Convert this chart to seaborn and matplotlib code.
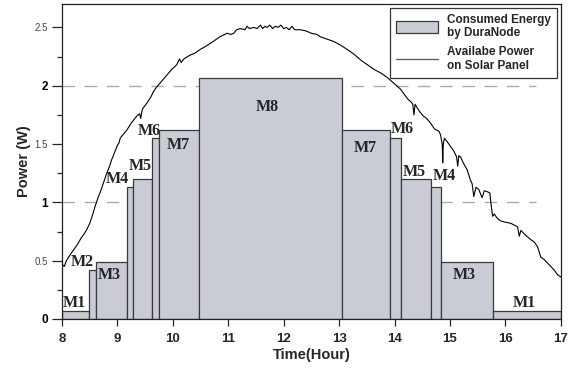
import matplotlib
matplotlib.use("Agg")
import matplotlib.pyplot as plt
import seaborn as sns
import numpy as np
from matplotlib.patches import Patch
from matplotlib.lines import Line2D

# ---- data: consumption modes (start hour, end hour, power W, label) ----
mode_start = [8.00, 8.49, 8.62, 9.17, 9.29, 9.62, 9.75, 10.48, 13.06, 13.92, 14.11, 14.65, 14.83, 15.77]
mode_end   = [8.49, 8.62, 9.17, 9.29, 9.62, 9.75, 10.48, 13.06, 13.92, 14.11, 14.65, 14.83, 15.77, 17.00]
mode_power = [0.07, 0.42, 0.49, 1.13, 1.20, 1.55, 1.62, 2.07, 1.62, 1.55, 1.20, 1.13, 0.49, 0.07]

label_text = ["M1", "M2", "M3", "M4", "M5", "M6", "M7", "M8", "M7", "M6", "M5", "M4", "M3", "M1"]
label_x    = [8.02, 8.15, 8.65, 8.79, 9.21, 9.37, 9.89, 11.49, 13.26, 13.93, 14.15, 14.69, 15.05, 16.14]
label_y    = [0.14, 0.49, 0.38, 1.20, 1.31, 1.61, 1.49, 1.82, 1.47, 1.63, 1.26, 1.23, 0.38, 0.14]

# ---- data: available solar power ----
solar_t = [8.00, 8.04, 8.08, 8.12, 8.16, 8.22, 8.28, 8.34, 8.40, 8.45, 8.50, 8.55, 8.60, 8.65,
           8.70, 8.75, 8.80, 8.85, 8.90, 8.95, 9.00, 9.03, 9.05, 9.10, 9.17, 9.25, 9.35, 9.40,
           9.42, 9.45, 9.53, 9.60, 9.65, 9.71, 9.80, 9.89, 9.98, 10.07, 10.12, 10.15, 10.20,
           10.30, 10.40, 10.49, 10.60, 10.73, 10.85, 10.98, 11.05, 11.10, 11.15, 11.22, 11.30,
           11.34, 11.38, 11.46, 11.52, 11.58, 11.62, 11.66, 11.70, 11.75, 11.80, 11.85, 11.90,
           11.95, 12.00, 12.05, 12.10, 12.15, 12.20, 12.30, 12.40, 12.50, 12.60, 12.66, 12.72,
           12.78, 12.90, 13.02, 13.15, 13.27, 13.39, 13.51, 13.63, 13.75, 13.87, 13.99, 14.11,
           14.20, 14.25, 14.30, 14.33, 14.35, 14.37, 14.45, 14.52, 14.58, 14.65, 14.72, 14.80,
           14.83, 14.86, 14.87, 14.88, 14.90, 14.95, 15.01, 15.07, 15.12, 15.14, 15.16, 15.19,
           15.25, 15.31, 15.37, 15.40, 15.43, 15.47, 15.52, 15.58, 15.62, 15.68, 15.72, 15.74,
           15.77, 15.80, 15.86, 15.92, 16.00, 16.10, 16.22, 16.25, 16.28, 16.36, 16.46, 16.52,
           16.58, 16.64, 16.70, 16.76, 16.82, 16.88, 16.94, 17.00]
solar_p = [0.47, 0.45, 0.50, 0.53, 0.56, 0.60, 0.64, 0.69, 0.73, 0.77, 0.82, 0.89, 0.97, 1.04,
           1.10, 1.17, 1.24, 1.30, 1.37, 1.43, 1.49, 1.51, 1.55, 1.58, 1.62, 1.68, 1.74, 1.76,
           1.72, 1.80, 1.85, 1.90, 1.95, 1.99, 2.04, 2.09, 2.14, 2.18, 2.23, 2.20, 2.23,
           2.26, 2.28, 2.31, 2.34, 2.38, 2.42, 2.45, 2.44, 2.45, 2.48, 2.49, 2.48,
           2.51, 2.49, 2.50, 2.49, 2.52, 2.49, 2.51, 2.50, 2.52, 2.49, 2.51, 2.50,
           2.52, 2.49, 2.50, 2.48, 2.51, 2.48, 2.48, 2.47, 2.45, 2.44, 2.42, 2.41,
           2.40, 2.38, 2.35, 2.31, 2.27, 2.22, 2.18, 2.14, 2.11, 2.07, 2.02, 1.97,
           1.91, 1.88, 1.86, 1.84, 1.75, 1.84, 1.78, 1.74, 1.72, 1.68, 1.63, 1.61,
           1.58, 1.50, 1.34, 1.50, 1.55, 1.52, 1.48, 1.44, 1.39, 1.31, 1.40, 1.39,
           1.33, 1.28, 1.19, 1.16, 1.05, 1.13, 1.11, 1.04, 1.10, 1.09, 1.08, 0.99,
           0.88, 0.90, 0.86, 0.84, 0.83, 0.82, 0.79, 0.71, 0.76, 0.72, 0.68, 0.66,
           0.62, 0.53, 0.51, 0.48, 0.45, 0.42, 0.38, 0.36]

x_ticks = [8, 9, 10, 11, 12, 13, 14, 15, 16, 17]
y_ticks = [0, 0.5, 1, 1.5, 2, 2.5]
y_tick_labels = ["0", "0.5", "1", "1.5", "2", "2.5"]

# ---- plot ----
sns.set_style("ticks")
plt.rcParams["font.family"] = ["Liberation Sans", "DejaVu Sans"]

fig = plt.figure(figsize=(5.74, 3.72), dpi=100)
ax = fig.add_axes([0.108, 0.1425, 0.869, 0.8465])

widths = [e - s for s, e in zip(mode_start, mode_end)]
ax.bar(mode_start, mode_power, width=widths, align="edge",
       color="#c9ccd4", edgecolor="#3a3a3a", linewidth=0.9, zorder=2)

for yv in (1, 2):
    ax.axhline(yv, xmin=0, xmax=0.95, color="#aaaaaa", lw=1.0,
               linestyle=(0, (9, 7)), zorder=1)

sns.lineplot(x=solar_t, y=solar_p, ax=ax, color="black", lw=0.8,
             estimator=None, sort=False, zorder=3)

for t, xx, yy in zip(label_text, label_x, label_y):
    ax.text(xx, yy, t, ha="left", va="center", fontsize=11.5, fontweight="bold",
            family="Liberation Serif", zorder=4)

ax.set_xlim(8, 17)
ax.set_ylim(0, 2.7)
ax.set_xticks(x_ticks)
ax.set_xticklabels([str(v) for v in x_ticks], fontsize=9.5, fontweight="bold")
ax.set_yticks(y_ticks)
ax.set_yticklabels(y_tick_labels)
for lab, v in zip(ax.get_yticklabels(), y_ticks):
    if float(v).is_integer():
        lab.set_fontsize(8.5)
        lab.set_fontweight("bold")
        lab.set_color("black")
    else:
        lab.set_fontsize(7)
        lab.set_color("#444444")
ax.set_yticks([0.25, 0.75, 1.25, 1.75, 2.25], minor=True)
ax.tick_params(axis="y", which="major", direction="out", length=7, width=0.9, pad=3)
ax.tick_params(axis="y", which="minor", direction="out", length=3.5, width=0.9)
ax.tick_params(axis="x", which="major", direction="out", length=5, width=0.9, pad=5)

for sp in ax.spines.values():
    sp.set_visible(True)
    sp.set_color("#222222")
    sp.set_linewidth(0.9)

ax.set_xlabel("Time(Hour)", fontsize=10.5, fontweight="bold", labelpad=2.5)
ax.set_ylabel("Power (W)", fontsize=10.5, fontweight="bold", labelpad=3)

handles = [Patch(facecolor="#c9ccd4", edgecolor="#3a3a3a", linewidth=0.9),
           Line2D([0], [0], color="#555555", lw=0.9)]
leg = ax.legend(handles, ["Consumed Energy\nby DuraNode", "Availabe Power\non Solar Panel"],
                loc="upper right", frameon=True, fancybox=False,
                prop={"weight": "bold", "size": 8.5}, handlelength=3.6, handleheight=1.2,
                borderaxespad=0.35, labelspacing=0.6, borderpad=0.45, handletextpad=0.8)
leg.get_frame().set_edgecolor("black")
leg.get_frame().set_linewidth(0.9)
leg.set_zorder(5)

fig.savefig("out.png", dpi=100)
